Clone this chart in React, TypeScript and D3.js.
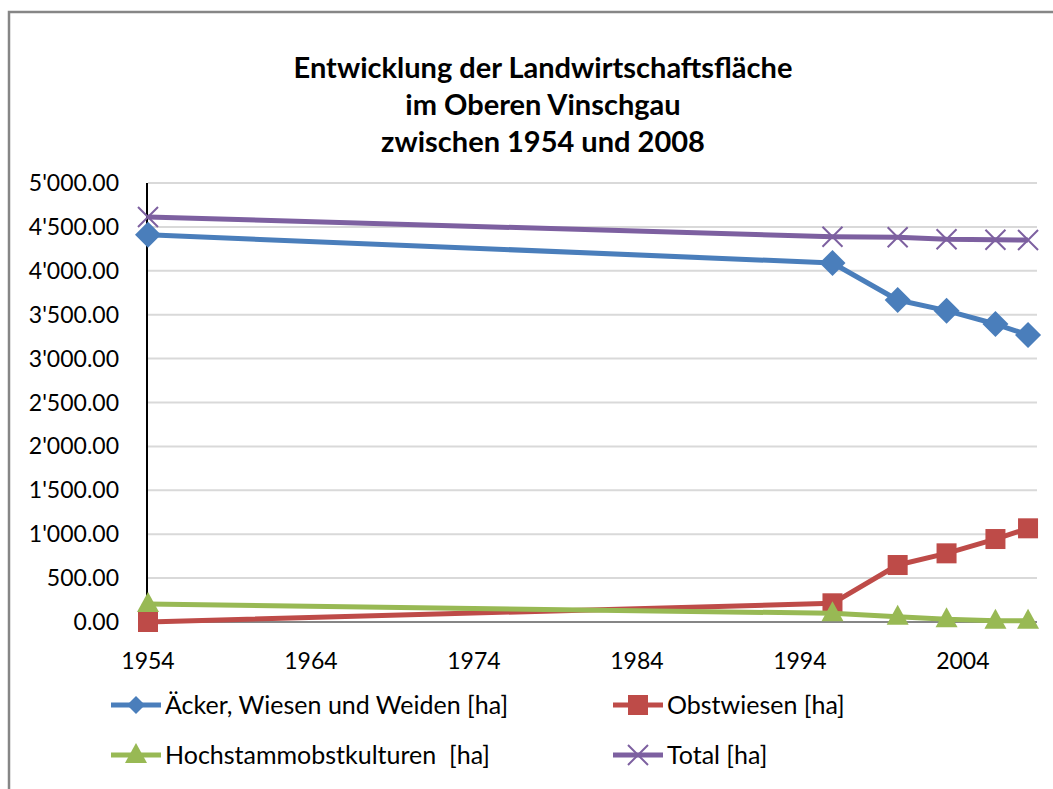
import React, { useEffect, useRef } from "react";
import * as d3 from "d3";

const years = [1954, 1996, 2000, 2003, 2006, 2008];
const aecker = [4410, 4089, 3667, 3546, 3394, 3269];
const obstwiesen = [0, 213, 649, 782, 945, 1067];
const hochstamm = [205, 99, 61, 30, 15, 15];
const total = [4613, 4388, 4382, 4359, 4354, 4351];

const xTicks = [1954, 1964, 1974, 1984, 1994, 2004];
const yTicks = [0, 500, 1000, 1500, 2000, 2500, 3000, 3500, 4000, 4500, 5000];
const titleLines = [
  "Entwicklung der Landwirtschaftsfläche",
  "im Oberen Vinschgau",
  "zwischen 1954 und 2008",
];

const width = 1053;
const height = 789;
const font = "Lato, 'Open Sans', sans-serif";

const series = [
  { name: "Äcker, Wiesen und Weiden [ha]", values: aecker, color: "#4A7EBB", marker: "diamond" },
  { name: "Obstwiesen [ha]", values: obstwiesen, color: "#BE4B48", marker: "square" },
  { name: "Hochstammobstkulturen  [ha]", values: hochstamm, color: "#98B954", marker: "triangle" },
  { name: "Total [ha]", values: total, color: "#7D60A0", marker: "cross" },
];

const drawMarker = (g: any, type: string, color: string, x: number, y: number, legend = false) => {
  if (type === "diamond") {
    const r = legend ? 9 : 13;
    g.append("path")
      .attr("d", `M${x},${y - r}L${x + r},${y}L${x},${y + r}L${x - r},${y}Z`)
      .attr("fill", color);
  } else if (type === "square") {
    g.append("rect")
      .attr("x", x - 10)
      .attr("y", y - 10)
      .attr("width", 20)
      .attr("height", 20)
      .attr("fill", color);
  } else if (type === "triangle") {
    g.append("path")
      .attr("d", `M${x},${y - 12}L${x + 11},${y + 8}L${x - 11},${y + 8}Z`)
      .attr("fill", color);
  } else {
    g.append("path")
      .attr("d", `M${x - 10},${y - 10}L${x + 10},${y + 10}M${x + 10},${y - 10}L${x - 10},${y + 10}`)
      .attr("stroke", color)
      .attr("stroke-width", 2)
      .attr("fill", "none");
  }
};

const App = () => {
  const ref = useRef<SVGSVGElement>(null);

  useEffect(() => {
    const svg = d3.select(ref.current);
    svg.selectAll("*").remove();

    const x = d3.scaleLinear().domain([1954, 2008.55]).range([148, 1037]);
    const y = d3.scaleLinear().domain([0, 5000]).range([622, 183]);

    // frame
    svg
      .append("path")
      .attr("d", `M9,${height + 5}V12H${width + 5}`)
      .attr("stroke", "#868686")
      .attr("stroke-width", 2.5)
      .attr("fill", "none");

    // title
    svg
      .append("g")
      .selectAll("text")
      .data(titleLines)
      .join("text")
      .attr("x", 543)
      .attr("y", (d, i) => 78 + i * 37)
      .attr("text-anchor", "middle")
      .attr("font-family", font)
      .attr("font-weight", 700)
      .attr("font-size", 29)
      .text((d) => d);

    // gridlines
    svg
      .append("g")
      .selectAll("line")
      .data(yTicks.filter((t) => t > 0))
      .join("line")
      .attr("x1", 148)
      .attr("x2", 1037)
      .attr("y1", (d) => y(d))
      .attr("y2", (d) => y(d))
      .attr("stroke", "#d9d9d9")
      .attr("stroke-width", 2);

    // axes
    svg
      .append("line")
      .attr("x1", 148)
      .attr("x2", 1037)
      .attr("y1", y(0))
      .attr("y2", y(0))
      .attr("stroke", "#868686")
      .attr("stroke-width", 2);
    svg
      .append("line")
      .attr("x1", 147)
      .attr("x2", 147)
      .attr("y1", y(5000))
      .attr("y2", y(0))
      .attr("stroke", "#000")
      .attr("stroke-width", 2);

    const fmt = (v: number) => d3.format(",.2f")(v).replace(/,/g, "'");
    svg
      .append("g")
      .selectAll("text")
      .data(yTicks)
      .join("text")
      .attr("x", 119)
      .attr("y", (d) => y(d))
      .attr("dy", "0.35em")
      .attr("text-anchor", "end")
      .attr("font-family", font)
      .attr("font-size", 23)
      .text((d) => fmt(d));

    svg
      .append("g")
      .selectAll("text")
      .data(xTicks)
      .join("text")
      .attr("x", (d) => x(d))
      .attr("y", 661)
      .attr("dy", "0.35em")
      .attr("text-anchor", "middle")
      .attr("font-family", font)
      .attr("font-size", 23)
      .text((d) => d);

    // lines + markers
    const line = d3
      .line<number>()
      .x((d, i) => x(years[i]))
      .y((d) => y(d));

    series.forEach((s) => {
      const g = svg.append("g");
      g.append("path")
        .attr("d", line(s.values))
        .attr("fill", "none")
        .attr("stroke", s.color)
        .attr("stroke-width", 5)
        .attr("stroke-linejoin", "round");
      s.values.forEach((v, i) => drawMarker(g, s.marker, s.color, x(years[i]), y(v)));
    });

    // legend
    const legendPos = [
      [111, 705],
      [613, 705],
      [111, 755],
      [613, 755],
    ];
    series.forEach((s, i) => {
      const [lx, ly] = legendPos[i];
      const g = svg.append("g");
      g.append("line")
        .attr("x1", lx)
        .attr("x2", lx + 50)
        .attr("y1", ly)
        .attr("y2", ly)
        .attr("stroke", s.color)
        .attr("stroke-width", 5);
      drawMarker(g, s.marker, s.color, lx + 25, ly, true);
      g.append("text")
        .attr("x", lx + 54)
        .attr("y", ly)
        .attr("dy", "0.35em")
        .attr("font-family", font)
        .attr("font-size", 25)
        .style("white-space", "pre")
        .text(s.name);
    });
  }, []);

  return (
    <svg
      ref={ref}
      width={width}
      height={height}
      style={{ position: "fixed", left: 0, top: 0, background: "#fff" }}
    ></svg>
  );
};

export default App;
